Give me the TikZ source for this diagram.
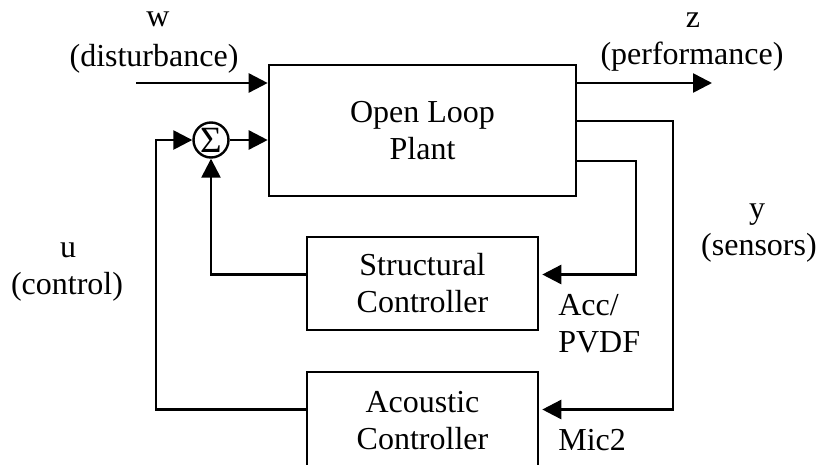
\documentclass[tikz,border=0pt]{standalone}
\usepackage{fontspec}
\setmainfont{Liberation Serif}
\usetikzlibrary{arrows.meta}
\begin{document}
\begin{tikzpicture}[x=1pt,y=-1pt,line width=2.6pt,
  txt/.style={font=\fontsize{32}{37}\selectfont},
  blk/.style={draw,line width=2.6pt,inner sep=0pt,align=center,txt},
  lbl/.style={inner sep=0pt,txt,anchor=base},
  lblw/.style={inner sep=0pt,txt,anchor=base west},
  arr/.style={-{Triangle[length=19pt,width=19pt]}}]
\useasboundingbox (0,0) rectangle (823,464);
\clip (0,0) rectangle (823,464);
% blocks
\node[blk,minimum width=307pt,minimum height=131pt] (plant) at (422.5,130.5) {Open Loop\\Plant};
\node[blk,minimum width=231pt,minimum height=93pt] (struct) at (422.5,283.5) {Structural\\Controller};
\node[blk,minimum width=231pt,minimum height=97pt] (acou) at (422.5,420.5) {Acoustic\\Controller};
\node[draw,circle,line width=2.4pt,minimum size=35pt,inner sep=0pt,font=\fontsize{37}{40}\selectfont] (sum) at (211,140) {\makebox[0pt]{\smash{\raisebox{-0.33em}{Σ}}}};
% coordinates
\coordinate (win) at (136,83);
\coordinate (zout) at (712,83);
\coordinate (ul) at (156,140);
\coordinate (r2) at (673,121);
\coordinate (r3) at (636,161);
% connectors
\draw[arr] (win) -- (plant.west |- win);
\draw[arr] (sum) -- (plant.west |- sum);
\draw[arr] (plant.east |- zout) -- (zout);
\draw[arr] ([yshift=9pt]struct.west) -| (sum);
\draw[arr] ([yshift=11pt]acou.west) -| (ul) -- (sum);
\draw[arr] (plant.east |- r2) -- (r2) |- ([yshift=11pt,xshift=3pt]acou.east);
\draw[arr] (plant.east |- r3) -- (r3) |- ([yshift=9pt,xshift=3pt]struct.east);
% labels
\node[lbl] (w) at (158,26) {w};
\node[lbl] (wd) at (154,66) {(disturbance)};
\node[lbl] (z) at (693,27) {z};
\node[lbl] (zd) at (692,64) {(performance)};
\node[lbl] (u) at (68,257) {u};
\node[lbl] (ud) at (67,294) {(control)};
\node[lbl] (y) at (757,218) {y};
\node[lbl] (yd) at (759,255) {(sensors)};
\node[lblw] (acc) at (557,315) {Acc/};
\node[lblw] (pvdf) at (557,352) {PVDF};
\node[lblw] (mic) at (557,450) {Mic2};
\end{tikzpicture}
\end{document}
